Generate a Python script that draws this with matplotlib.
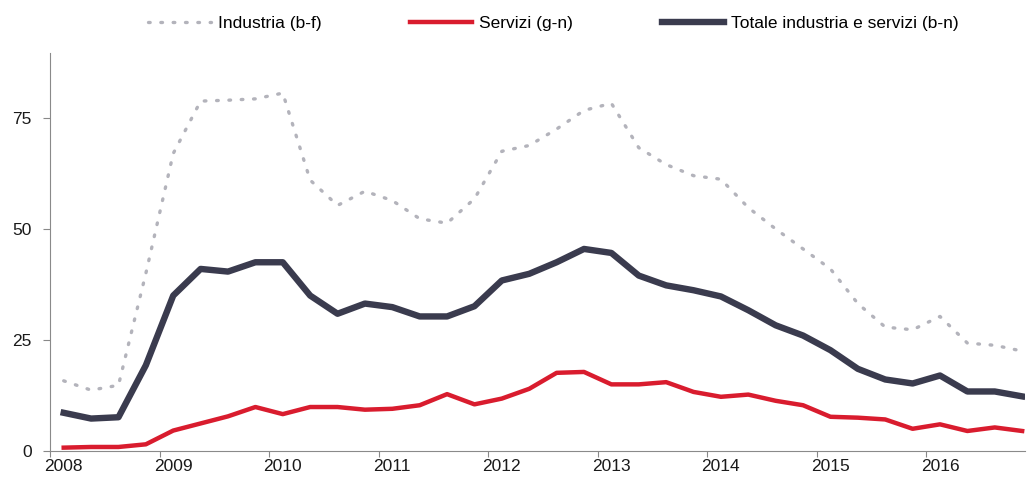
import numpy as np
import matplotlib.pyplot as plt

plt.rcParams['font.family'] = ['Liberation Sans', 'DejaVu Sans']

# quarterly data, 2008 Q1 - 2016 Q4
quarters = 2008.125 + 0.25 * np.arange(36)

industria = [15.8, 13.7, 14.8, 40.0, 67.0, 78.8, 79.0, 79.3, 80.6, 61.0,
             55.3, 58.5, 56.4, 52.3, 51.3, 56.8, 67.5, 68.8, 72.5, 76.7,
             78.3, 68.3, 64.5, 62.0, 61.2, 54.8, 50.0, 45.5, 41.0, 33.2,
             27.9, 27.3, 30.3, 24.3, 23.8, 22.5]
servizi = [0.75, 0.9, 0.9, 1.5, 4.6, 6.2, 7.8, 9.9, 8.3, 9.9,
           9.9, 9.3, 9.5, 10.3, 12.8, 10.5, 11.8, 14.0, 17.6, 17.8,
           15.0, 15.0, 15.5, 13.3, 12.2, 12.7, 11.3, 10.3, 7.7, 7.5,
           7.1, 5.0, 6.0, 4.5, 5.3, 4.5]
totale = [8.6, 7.3, 7.6, 19.3, 35.0, 41.0, 40.4, 42.5, 42.5, 35.0,
          30.9, 33.2, 32.4, 30.3, 30.3, 32.6, 38.4, 39.9, 42.5, 45.5,
          44.6, 39.5, 37.3, 36.2, 34.8, 31.7, 28.3, 26.0, 22.7, 18.5,
          16.1, 15.2, 17.0, 13.4, 13.4, 12.3]

years = list(range(2008, 2017))
yticks = [0, 25, 50, 75]

fig = plt.figure(figsize=(10.29, 4.83), dpi=100)
ax = fig.add_axes([0.0486, 0.0663, 0.9474, 0.8237])

ax.plot(quarters, industria, color='#b3b3bb', lw=2.4,
        linestyle=(0, (0.5, 3.2)), dash_capstyle='round',
        label='Industria (b-f)')
ax.plot(quarters, servizi, color='#d91c2e', lw=3.2, label='Servizi (g-n)')
ax.plot(quarters, totale, color='#3a3b4e', lw=4.6,
        label='Totale industria e servizi (b-n)')

ax.set_xlim(2008, 2016.9)
ax.set_ylim(0, 89.6)

ax.set_yticks(yticks)
ax.set_xticks(years)
ax.set_xticklabels([])
ax.set_xticks([y + 0.125 for y in years], minor=True)
ax.set_xticklabels([str(y) for y in years], minor=True)
ax.tick_params(axis='x', which='minor', length=0, pad=6)
ax.tick_params(axis='x', which='major', length=4, color='#888888', width=0.8)
ax.tick_params(axis='y', length=5, color='#888888', width=0.8, pad=8)
ax.tick_params(which='both', labelsize=12.5, labelcolor='#1a1a1a')

for s in ['top', 'right']:
    ax.spines[s].set_visible(False)
for s in ['left', 'bottom']:
    ax.spines[s].set_color('#8a8a8a')
    ax.spines[s].set_linewidth(0.8)

fig.legend(loc='upper center', bbox_to_anchor=(0.538, 1.0), ncol=3,
           frameon=False, fontsize=12.5, handlelength=3.6,
           handletextpad=0.4, columnspacing=5.1)

fig.savefig('out.png', dpi=100)
